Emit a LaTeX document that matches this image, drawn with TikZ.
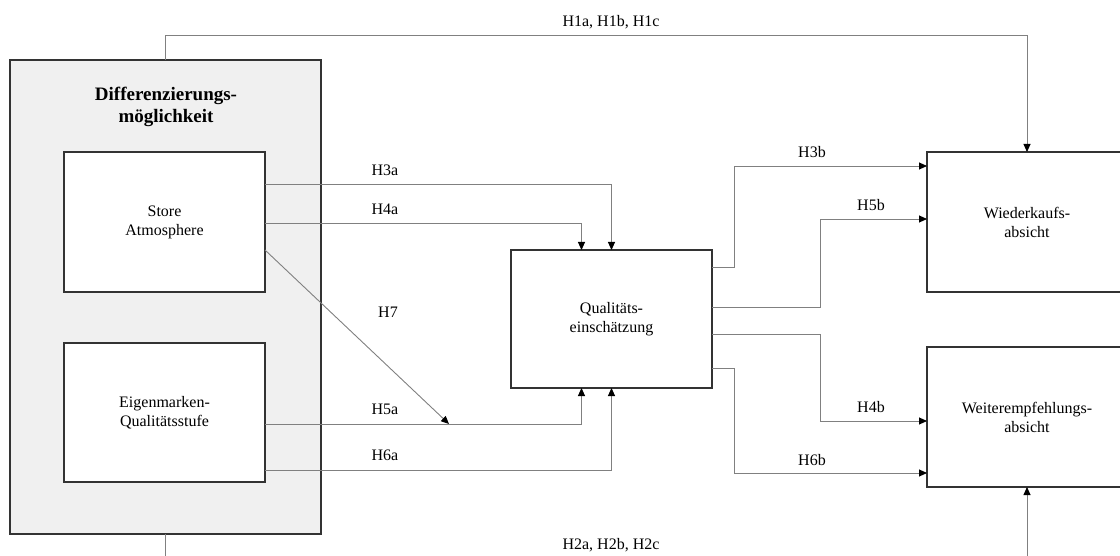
\documentclass[tikz,border=0pt]{standalone}
\usepackage{fontspec}
\setmainfont{Liberation Serif}
\usetikzlibrary{arrows.meta}

\begin{document}
\begin{tikzpicture}[
  x=1pt, y=-1pt,
  box/.style={draw=black!80, line width=1.1pt, fill=white, inner sep=0pt, outer sep=0pt,
              minimum width=201pt, minimum height=140pt, align=center,
              font=\fontsize{16}{19}\selectfont},
  conn/.style={draw=black!50, line width=0.9pt,
               -{Triangle[length=8pt,width=7pt,color=black]}},
  plain/.style={draw=black!50, line width=0.9pt},
  lbl/.style={font=\fontsize{16}{19}\selectfont, inner sep=0pt}
]
\useasboundingbox (0,0) rectangle (1120,556);
\clip (0,0) rectangle (1120,556);

% grouping frame with its heading
\node[draw=black!80, line width=1.1pt, fill=black!6, inner sep=0pt, outer sep=0pt,
      minimum width=311pt, minimum height=474pt] (outer) at (165.5,297) {};
\node[align=center, font=\fontsize{19}{22}\selectfont\bfseries] (title) at (166,107)
  {Differenzierungs-\\möglichkeit};

% constructs
\node[box] (store) at (164.5,222) {Store\\Atmosphere};
\node[box, minimum height=139pt] (eigen) at (164.5,412.5) {Eigenmarken-\\Qualitätsstufe};
\node[box, minimum height=138pt] (qual) at (611.5,319) {Qualitäts-\\einschätzung};
\node[box, minimum width=200pt] (wieder) at (1027,222) {Wiederkaufs-\\absicht};
\node[box, minimum width=200pt] (weiter) at (1027,417) {Weiterempfehlungs-\\absicht};

% end point of the moderating path
\coordinate (modpt) at (449,424);

% paths into the quality assessment
\draw[conn] (store.east |- 0,184) -| (qual.north);
\draw[conn] (store.east |- 0,223) -| ([xshift=-30pt]qual.north);
\draw[conn] (store.east |- 0,250) -- (modpt);
\draw[conn] (eigen.east |- 0,424) -| ([xshift=-30pt]qual.south);
\draw[conn] (eigen.east |- 0,470) -| (qual.south);

% paths out of the quality assessment
\draw[conn] (qual.east |- 0,267) -- ++(22,0) |- (wieder.west |- 0,166);
\draw[conn] (qual.east |- 0,307) -- ++(108,0) |- (wieder.west |- 0,219);
\draw[conn] (qual.east |- 0,334) -- ++(108,0) |- (weiter.west |- 0,421);
\draw[conn] (qual.east |- 0,368) -- ++(22,0) |- (weiter.west |- 0,473);

% direct effects
\draw[conn] (outer.north) -- (outer.north |- 0,35) -| (wieder.north);
\draw[conn] (outer.south) -- (outer.south |- 0,580) -| (weiter.south);

% path labels
\node[lbl] (l3a) at (385,170) {H3a};
\node[lbl] (l4a) at (385,209) {H4a};
\node[lbl] (l7)  at (388,312) {H7};
\node[lbl] (l5a) at (385,409) {H5a};
\node[lbl] (l6a) at (385,455) {H6a};
\node[lbl] (l3b) at (812,152) {H3b};
\node[lbl] (l5b) at (871,205) {H5b};
\node[lbl] (l4b) at (871,407) {H4b};
\node[lbl] (l6b) at (812,460) {H6b};
\node[lbl] (l1)  at (611,22)  {H1a, H1b, H1c};
\node[lbl] (l2)  at (611,545) {H2a, H2b, H2c};
\end{tikzpicture}
\end{document}
